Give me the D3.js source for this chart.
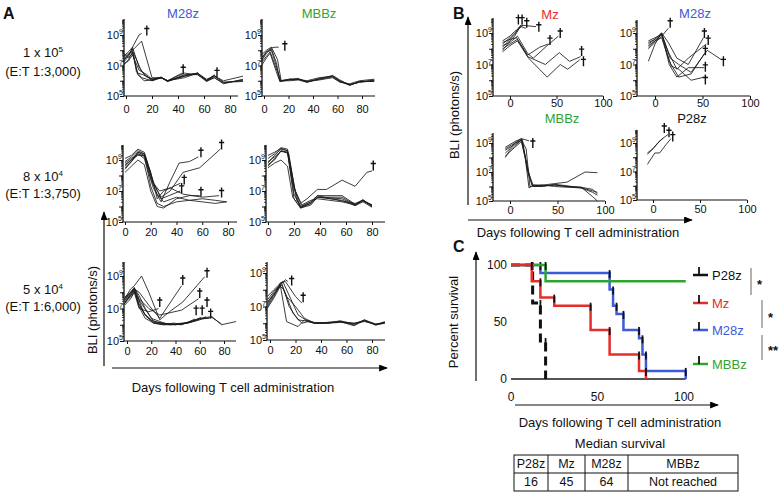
<!DOCTYPE html>
<html><head><meta charset="utf-8">
<script src="https://cdn.jsdelivr.net/npm/d3@7"></script>
<style>body{margin:0;background:#fff}svg{display:block}text{font-family:"Liberation Sans",Arial,Helvetica,sans-serif}</style>
</head><body><svg id="c" width="783" height="499"></svg>
<script>
// ---------------- DATA (day, log10 BLI) ----------------
const a1Lines = [
 [[-2,7.3],[2,7.7],[5,8.1],[8,6.6],[12,6.2],[20,6.0],[27,6.2],[32,6.0],[45,6.3],[55,6.5],[62,6.0],[68,6.3],[75,5.9],[90,6.0]],
 [[-2,7.0],[2,7.4],[5,7.9],[9,6.4],[14,6.0],[20,6.05],[27,6.25],[32,5.95],[45,6.4],[55,6.4],[62,5.95],[68,6.2],[75,5.8],[90,6.1]],
 [[-2,7.6],[2,7.9],[5,8.2],[10,6.9],[15,6.3],[20,6.1],[27,6.2],[32,6.0],[45,6.2],[55,6.5],[62,6.1],[68,6.3],[75,6.0],[90,6.3]],
 [[-2,7.5],[2,7.8],[5,7.9],[8,7.4],[12,6.6],[20,6.0],[27,6.2],[32,6.0],[45,6.5],[55,6.4],[62,6.05],[68,6.35],[75,5.9],[90,5.95]],
 [[-2,7.1],[2,7.3],[5,7.7],[10,6.7],[16,6.4],[20,6.1],[27,6.2],[32,5.95],[45,6.35],[55,6.5],[62,6.0],[68,6.2],[75,5.85],[90,6.05]],
 [[-2,7.2],[2,7.6],[5,8.2],[10,9.0],[12,9.1]],
 [[-2,7.4],[2,7.7],[5,8.0],[12,8.6],[20,6.2],[27,6.2],[32,6.0],[43,6.5]],
 [[-2,7.8],[2,7.5],[5,7.8],[9,6.5],[13,6.4],[20,6.1],[27,6.2],[32,6.0],[45,6.3],[55,6.5],[62,6.0],[68,6.4]]
];
const a1Daggers = [[16,9.3],[44,6.75],[70,6.55]];

const a2Lines = [
 [[-2,7.3],[2,7.8],[6,8.1],[10,7.2],[13,6.0],[21,6.1],[28,6.1],[35,5.95],[45,6.1],[56,6.25],[62,5.95],[70,5.7],[78,5.95],[90,6.0]],
 [[-2,7.5],[2,7.9],[6,8.0],[10,7.0],[13,5.95],[21,6.05],[28,6.15],[35,5.9],[45,6.15],[56,6.3],[62,6.0],[70,5.75],[78,5.9],[90,6.05]],
 [[-2,7.2],[2,7.6],[5,7.9],[10,6.8],[14,6.0],[21,6.1],[28,6.1],[35,5.95],[45,6.05],[56,6.2],[62,5.9],[70,5.8],[78,6.0],[90,6.1]],
 [[-2,7.7],[2,8.0],[6,8.2],[11,7.4],[14,6.0],[21,6.0],[28,6.05],[35,5.9],[45,6.1],[56,6.35],[62,6.05],[70,5.7],[78,5.95],[90,5.95]],
 [[-2,7.0],[2,7.5],[5,7.8],[10,6.6],[13,5.95],[21,6.1],[28,6.1],[35,6.0],[45,6.2],[56,6.3],[62,5.95],[70,5.75],[78,5.9],[90,6.0]],
 [[-2,7.4],[2,7.9],[6,8.15],[9,8.2],[12,8.2]]
];
const a2Daggers = [[17,8.3]];

const a3Lines = [
 [[0,8.9],[5,9.2],[10,9.6],[15,9.4],[20,7.8],[25,6.8],[30,6.3],[40,6.6],[50,6.4],[60,6.3],[70,6.2],[79,6.3]],
 [[0,8.6],[5,9.0],[10,9.3],[15,9.3],[20,7.3],[25,6.2],[30,6.0],[40,6.3],[50,6.4],[60,6.5],[70,6.4],[79,6.3]],
 [[0,9.1],[5,9.3],[10,9.7],[15,9.5],[22,7.5],[27,7.0],[35,7.2],[45,6.8],[60,6.6],[73,6.7]],
 [[0,8.2],[5,8.6],[10,9.0],[15,8.7],[20,7.0],[25,6.0],[30,5.9],[40,6.5],[50,6.7],[58,6.7]],
 [[0,8.7],[5,9.0],[10,9.5],[15,9.4],[20,8.2],[25,6.5],[30,7.0],[43,7.5]],
 [[0,8.8],[5,9.1],[10,9.4],[16,9.2],[22,7.6],[28,6.5],[43,7.0]],
 [[0,8.4],[5,8.9],[10,9.4],[15,9.1],[22,7.2],[28,6.3],[35,7.6],[42,8.8],[50,8.9],[57,9.2]],
 [[0,8.5],[5,8.9],[10,9.5],[15,9.3],[22,7.5],[28,6.6],[35,7.0],[45,8.2],[58,8.5],[74,9.7]]
];
const a3Daggers = [[59,9.5],[75,10.0],[46,7.75],[44,7.2],[59,6.95],[75,6.9]];

const a4Lines = [
 [[0,8.6],[5,9.1],[10,9.6],[15,9.5],[19,7.5],[25,5.9],[33,6.2],[38,6.6],[57,6.5],[67,6.1],[73,6.4],[80,6.0]],
 [[0,8.8],[5,9.3],[10,9.7],[15,9.6],[20,6.8],[25,6.0],[33,6.3],[38,6.7],[57,6.7],[67,6.15],[73,6.35],[80,6.1]],
 [[0,9.1],[5,9.4],[10,9.8],[15,9.7],[20,7.2],[26,6.1],[33,6.4],[38,6.5],[57,6.3],[67,6.1],[73,6.4],[80,6.05]],
 [[0,8.5],[5,8.8],[10,9.0],[15,8.6],[19,6.6],[25,5.95],[33,6.2],[38,6.6],[57,6.4],[67,6.05],[73,6.3],[80,5.95]],
 [[0,9.3],[5,9.5],[10,9.75],[15,9.6],[21,7.0],[25,6.2],[30,6.5],[38,7.1],[45,7.1],[57,7.7],[67,7.3],[76,8.2],[80,8.3]],
 [[0,8.9],[5,9.2],[10,9.55],[15,9.5],[20,6.5],[25,5.9],[33,6.1],[38,6.6],[57,6.6],[67,6.1],[73,6.45],[80,6.0]],
 [[0,8.7],[5,9.0],[10,9.6],[16,9.4],[22,6.4],[26,6.0],[33,6.3],[38,6.7],[57,6.35],[67,6.2],[73,6.4],[80,6.1]]
];
const a4Daggers = [[81,8.65]];

const a5Lines = [
 [[-2,7.5],[3,7.9],[6,8.2],[10,7.5],[14,6.7],[20,6.3],[27,6.1],[35,6.05],[45,6.0],[52,6.2],[60,6.4],[70,6.5],[78,6.0],[90,6.2]],
 [[-2,7.3],[3,7.8],[6,8.1],[10,7.2],[16,6.5],[22,6.1],[30,6.0],[38,6.1],[45,6.05],[52,6.15],[60,6.35],[70,6.45],[78,6.05]],
 [[-2,7.7],[3,8.0],[6,8.25],[10,7.8],[15,7.0],[22,6.2],[30,6.1],[40,6.0],[50,6.1],[60,6.3],[65,6.5]],
 [[-2,7.4],[3,7.7],[6,8.0],[12,7.3],[20,6.4],[27,6.2],[35,6.0],[45,6.05],[55,6.25],[61,6.45]],
 [[-2,7.6],[3,8.2],[6,8.4],[12,9.0],[18,8.0],[27,6.3],[35,6.8],[46,7.4],[64,8.95]],
 [[-2,7.3],[3,7.9],[6,8.2],[10,8.0],[18,7.2],[27,6.4],[45,8.4]],
 [[-2,7.5],[3,8.0],[6,8.3],[10,7.6],[18,7.0],[27,6.6],[45,6.9],[59,7.6]],
 [[-2,7.2],[3,7.6],[6,8.0],[10,7.0],[18,6.8],[26,7.0]],
 [[-2,7.6],[3,8.0],[6,8.2],[10,7.3],[15,6.6],[22,6.15],[30,6.05],[40,6.05],[50,6.15],[56,6.35]],
 [[-2,7.4],[3,7.8],[6,8.1],[10,7.1],[15,6.4],[22,6.1],[30,6.0],[40,6.0],[50,6.1],[60,6.35],[68,6.4]]
];
const a5Daggers = [[66,9.2],[46,8.75],[60,7.95],[27,7.4],[57,6.9],[62,6.9],[66,7.4],[69,6.7]];

const a6Lines = [
 [[-2,7.2],[3,7.8],[8,8.3],[12,8.6],[14,8.5]],
 [[-2,7.0],[3,7.6],[8,8.4],[12,8.5],[20,7.6],[25,7.2]],
 [[-2,7.4],[3,7.9],[8,8.3],[13,6.1],[22,5.8],[27,6.2],[35,6.0],[45,6.0],[55,6.1],[66,5.85],[74,6.2],[83,5.9],[90,6.05]],
 [[-2,7.6],[3,8.0],[9,8.45],[15,7.0],[22,6.2],[27,6.15],[35,6.0],[45,6.0],[55,6.05],[66,6.0],[74,6.1],[83,5.95],[90,6.0]],
 [[-2,6.9],[3,7.5],[8,8.2],[11,8.0],[18,6.6],[25,6.0],[30,6.1],[35,6.0],[45,6.05],[55,6.1],[66,5.9],[74,6.15],[83,5.9],[90,6.1]],
 [[-2,7.3],[3,7.7],[10,8.5],[16,7.5],[22,6.5],[28,6.2],[35,6.05],[45,6.0],[55,6.15],[66,5.95],[74,6.2],[83,5.95],[90,6.05]],
 [[-2,7.1],[3,7.7],[9,8.3],[13,7.6],[20,7.0],[27,6.3],[35,6.0],[45,6.05],[55,6.1],[66,6.0],[74,6.15],[83,5.9],[90,6.0]]
];
const a6Daggers = [[17,8.55],[26,7.55]];

const bMzLines = [
 [[-8,8.1],[0,8.6],[5,8.9],[10,9.4],[12,9.5]],
 [[-8,8.3],[0,8.7],[5,9.0],[10,9.3],[14,9.5]],
 [[-8,8.5],[0,8.8],[5,9.1],[12,9.4],[17,9.3]],
 [[-8,7.9],[0,8.5],[5,8.8],[12,9.5],[28,9.4]],
 [[-8,8.4],[0,8.6],[7,8.7],[19,7.6],[32,8.1],[41,8.3]],
 [[-8,8.2],[0,8.4],[8,8.8],[19,7.7],[25,7.4],[40,8.2],[52,8.8]],
 [[-8,8.0],[0,8.3],[8,8.6],[19,7.5],[38,7.0],[53,7.75],[64,7.2],[76,7.5]],
 [[-8,7.8],[0,8.2],[8,8.5],[20,7.4],[40,6.2],[54,7.0],[62,6.7],[75,7.3]]
];
const bMzDaggers = [[9,9.85],[13,9.85],[18,9.65],[31,9.4],[43,8.55],[54,9.0],[77,7.85],[79,7.2]];

const bM28zLines = [
 [[-7,8.0],[0,8.4],[7,8.8],[14,9.3]],
 [[-7,8.4],[0,8.6],[7,9.0],[14,8.4],[23,7.4],[35,7.0],[51,8.7]],
 [[-7,8.5],[0,8.7],[7,8.9],[14,7.8],[23,6.7],[35,7.4],[54,8.3]],
 [[-7,8.3],[0,8.6],[7,9.0],[16,7.4],[25,7.0],[38,6.5],[55,7.9],[70,7.3]],
 [[-7,7.2],[0,8.3],[7,9.0],[15,7.0],[23,6.2],[35,6.8],[52,6.8]],
 [[-7,8.1],[0,8.5],[7,8.9],[17,6.9],[25,6.7],[38,6.0],[52,6.2]],
 [[-7,8.2],[0,8.5],[7,8.7],[15,7.2],[25,6.2],[38,6.4],[52,7.7]]
];
const bM28zDaggers = [[16,9.65],[52,9.0],[56,8.55],[53,7.9],[72,7.2],[53,6.85],[53,6.05]];

const bMBBzLines = [
 [[-5,8.7],[0,8.9],[5,9.1],[12,9.3],[20,9.15]],
 [[-5,8.0],[0,8.5],[5,8.8],[12,9.2],[17,8.6],[21,6.0],[25,6.05],[35,6.1],[47,6.0],[60,5.95],[75,5.9],[87,5.6],[92,5.4]],
 [[-5,8.3],[0,8.6],[5,9.0],[12,9.3],[18,7.5],[23,6.1],[35,6.05],[47,6.1],[60,6.0],[75,5.95],[87,5.8],[92,5.5]],
 [[-5,8.5],[0,8.7],[5,8.9],[13,9.25],[19,6.9],[24,6.0],[35,6.0],[47,6.15],[60,6.05],[75,5.9],[87,5.7],[92,5.6]],
 [[-5,8.1],[0,8.4],[5,8.7],[12,9.1],[16,8.0],[20,5.9],[25,6.1],[35,6.1],[47,6.2],[60,6.3],[79,7.0],[92,6.95]],
 [[-5,8.6],[0,8.8],[5,9.0],[12,9.2],[19,7.0],[25,6.0],[35,6.05],[47,6.1],[60,6.0],[75,5.95],[87,5.3],[92,5.0]]
];
const bMBBzDaggers = [[24,9.0]];

const bP28zLines = [
 [[-6,8.2],[0,8.6],[5,9.0],[11,9.35]],
 [[-6,8.3],[0,8.6],[8,9.2],[16,9.6]],
 [[-6,7.5],[2,8.3],[7,8.3],[14,8.9],[19,9.3]]
];
const bP28zDaggers = [[12,10.05],[17,9.75],[21,9.45]];

// survival (day, percent)
const p28zSurv = [[0,100],[12.5,66.7],[17,33.3],[20,0]];
const m28zSurv = [[0,100],[17,92.9],[57,78.6],[59,64.3],[61,57.1],[65,42.9],[74,35.7],[76,21.4],[78,7.1],[101,0]];
const mbbzSurv = [[0,100],[20,85.7],[101,85.7]];
const mzSurv = [[0,100],[12,85.7],[17,71.4],[25,64.3],[46,42.9],[57,21.4],[74,7.1],[78,0]];

const tableHead = ["P28z","Mz","M28z","MBBz"];
const tableVals = ["16","45","64","Not reached"];
const xTicksA = [0,20,40,60,80];
const xTicksB = [0,50,100];
const survTicks = [0,50,100];

// ---------------- DRAWING ----------------
const BLUE="#3d5ad9", GREEN="#2fa52f", RED="#e52e2a";
const svg = d3.select('#c');
const mk = svg.append('defs').append('marker').attr('id','arr').attr('viewBox','0 0 10 8')
  .attr('refX',9).attr('refY',4).attr('markerWidth',9).attr('markerHeight',7)
  .attr('markerUnits','userSpaceOnUse').attr('orient','auto');
mk.append('path').attr('d','M0,0L10,4L0,8z').attr('fill','#000');

function txt(x,y,s,o={}){
  const t=svg.append('text').attr('x',x).attr('y',y).text(s)
   .attr('font-size',o.fs||13).attr('text-anchor',o.anchor||'middle').attr('fill',o.fill||'#111');
  if(o.bold) t.attr('font-weight','bold');
  if(o.rot) t.attr('transform',`rotate(-90,${x},${y})`);
  return t;
}

function bliPanel(c, lines, daggers, xMax, xTicks){
  const g=svg.append('g');
  const x=d3.scaleLinear().domain([0,xMax]).range([c.p0,c.pm]);
  const y=d3.scaleLog().domain([1e5,1e9]).range([c.yb,c.y9]);
  const topVal=y.invert(c.yt);
  const minor=[];
  for(let k=5;k<=10;k++) for(let m=1;m<=9;m++){const v=m*Math.pow(10,k); if(v<=topVal) minor.push(v);}
  const ya=g.append('g').attr('transform',`translate(${c.ax},0)`)
    .call(d3.axisLeft(y).tickValues(minor).tickSize(2).tickFormat(''));
  ya.select('.domain').remove();
  ya.selectAll('line').attr('stroke','#111').attr('stroke-width',0.8);
  g.append('g').attr('transform',`translate(${c.ax},0)`)
    .call(d3.axisLeft(y).tickValues([1e5,1e6,1e7,1e8,1e9].filter(v=>v<=topVal)).tickSize(4).tickFormat(''))
    .call(s=>{s.select('.domain').remove(); s.selectAll('line').attr('stroke','#111').attr('stroke-width',1);});
  g.append('line').attr('x1',c.ax).attr('x2',c.ax).attr('y1',c.yt).attr('y2',c.yb).attr('stroke','#111').attr('stroke-width',1.3);
  [5,7,9].forEach(e=>{
    const t=g.append('text').attr('x',c.ax-1).attr('y',y(Math.pow(10,e))+4).attr('text-anchor','end')
      .attr('font-size',11).attr('fill','#111');
    t.append('tspan').text('10');
    t.append('tspan').attr('dy',-5).attr('font-size',7).text(e);
  });
  const xa=g.append('g').attr('transform',`translate(0,${c.yb})`)
    .call(d3.axisBottom(x).tickValues(xTicks).tickSize(3).tickPadding(c.pad).tickFormat(d3.format('d')));
  xa.select('.domain').remove();
  xa.selectAll('line').attr('stroke','#111');
  xa.selectAll('text').attr('font-size',11).attr('fill','#111').attr('font-family','"Liberation Sans",Arial,sans-serif');
  g.append('line').attr('x1',c.ax).attr('x2',c.ex).attr('y1',c.yb).attr('y2',c.yb).attr('stroke','#111').attr('stroke-width',1.2);
  const ln=d3.line().x(d=>x(d[0])).y(d=>y(Math.pow(10,d[1])));
  g.selectAll('path.l').data(lines).join('path').attr('class','l').attr('d',ln)
    .attr('fill','none').attr('stroke','#1a1a1a').attr('stroke-width',0.85).attr('stroke-linejoin','round');
  g.selectAll('path.dg').data(daggers).join('path').attr('class','dg')
    .attr('d',d=>{const cx=x(d[0]), cy=y(Math.pow(10,d[1]));
       return `M${cx},${cy-5}V${cy+5}M${cx-2.6},${cy-2}H${cx+2.6}`;})
    .attr('fill','none').attr('stroke','#111').attr('stroke-width',1.4);
}

// Panel A
txt(3,19,'A',{fs:16,bold:true,anchor:'start'});
txt(183,18,'M28z',{fill:BLUE});
txt(319,18,'MBBz',{fill:GREEN});
const rowLab=[["1 x 10","5","(E:T 1:3,000)",57,76],["8 x 10","4","(E:T 1:3,750)",181,198],["5 x 10","4","(E:T 1:6,000)",294,311]];
rowLab.forEach(r=>{
  const t=svg.append('text').attr('x',43).attr('y',r[3]).attr('text-anchor','middle').attr('font-size',13).attr('fill','#111');
  t.append('tspan').text(r[0]); t.append('tspan').attr('dy',-5).attr('font-size',8).text(r[1]);
  txt(43,r[4],r[2]);
});
bliPanel({ax:124,ex:238,p0:126,pm:230,yb:96,y9:35,yt:19,pad:6},a1Lines,a1Daggers,80,xTicksA);
bliPanel({ax:262,ex:375,p0:264,pm:362,yb:96,y9:35,yt:19,pad:6},a2Lines,a2Daggers,80,xTicksA);
bliPanel({ax:123,ex:237,p0:125,pm:228,yb:222,y9:160,yt:145,pad:3},a3Lines,a3Daggers,80,xTicksA);
bliPanel({ax:266,ex:385,p0:268,pm:372,yb:222,y9:160,yt:145,pad:3},a4Lines,a4Daggers,80,xTicksA);
bliPanel({ax:124,ex:236,p0:127,pm:224,yb:341,y9:276,yt:262,pad:3},a5Lines,a5Daggers,80,xTicksA);
bliPanel({ax:267,ex:385,p0:270,pm:372,yb:340,y9:273,yt:262,pad:3},a6Lines,a6Daggers,80,xTicksA);
svg.append('line').attr('x1',104).attr('x2',104).attr('y1',366).attr('y2',212).attr('stroke','#111').attr('stroke-width',1.2).attr('marker-end','url(#arr)');
svg.append('line').attr('x1',112).attr('x2',387).attr('y1',368).attr('y2',368).attr('stroke','#111').attr('stroke-width',1.2).attr('marker-end','url(#arr)');
txt(97,310,'BLI (photons/s)',{rot:true});
txt(233,392,'Days following T cell administration');

// Panel B
txt(453,19,'B',{fs:16,bold:true,anchor:'start'});
txt(550,19,'Mz',{fill:RED});
txt(695,18,'M28z',{fill:BLUE});
txt(562,123,'MBBz',{fill:GREEN});
txt(692,123,'P28z');
bliPanel({ax:493,ex:603,p0:510,pm:603,yb:96,y9:33,yt:18,pad:0},bMzLines,bMzDaggers,100,xTicksB);
bliPanel({ax:637,ex:750,p0:655,pm:750,yb:96,y9:33,yt:20,pad:0},bM28zLines,bM28zDaggers,100,xTicksB);
bliPanel({ax:493,ex:605,p0:510,pm:605,yb:201,y9:143,yt:133,pad:2},bMBBzLines,bMBBzDaggers,100,xTicksB);
bliPanel({ax:637,ex:747,p0:653,pm:747,yb:200,y9:143,yt:130,pad:2},bP28zLines,bP28zDaggers,100,xTicksB);
svg.append('line').attr('x1',468).attr('x2',468).attr('y1',205).attr('y2',17).attr('stroke','#111').attr('stroke-width',1.2).attr('marker-end','url(#arr)');
svg.append('line').attr('x1',468).attr('x2',692).attr('y1',220).attr('y2',220).attr('stroke','#111').attr('stroke-width',1.2).attr('marker-end','url(#arr)');
txt(459,115,'BLI (photons/s)',{rot:true});
txt(578,237,'Days following T cell administration');

// Panel C
txt(453,252,'C',{fs:16,bold:true,anchor:'start'});
const xs=d3.scaleLinear().domain([0,100]).range([511,684]);
const ys=d3.scaleLinear().domain([0,100]).range([379,265]);
svg.append('line').attr('x1',476).attr('x2',476).attr('y1',381).attr('y2',252).attr('stroke','#111').attr('stroke-width',1.2).attr('marker-end','url(#arr)');
svg.append('line').attr('x1',515).attr('x2',718).attr('y1',405).attr('y2',405).attr('stroke','#111').attr('stroke-width',1.2).attr('marker-end','url(#arr)');
survTicks.forEach(v=>{ txt(507,ys(v)+4,String(v),{anchor:'end',fs:12}); txt(xs(v),401,String(v),{fs:12}); });
svg.append('line').attr('x1',xs(0)).attr('x2',xs(101)).attr('y1',ys(0)).attr('y2',ys(0)).attr('stroke','#555').attr('stroke-width',2);
txt(458,322,'Percent survival',{rot:true});
txt(620,427,'Days following T cell administration');
const survSeries=[
 {name:'P28z',color:'#111',dash:'9,5',data:p28zSurv,ly:275},
 {name:'M28z',color:BLUE,data:m28zSurv,ly:330},
 {name:'MBBz',color:GREEN,data:mbbzSurv,ly:364},
 {name:'Mz',color:RED,data:mzSurv,ly:303}
];
const sl=d3.line().curve(d3.curveStepAfter).x(d=>xs(d[0])).y(d=>ys(d[1]));
survSeries.forEach(s=>{
  const p=svg.append('path').attr('d',sl(s.data)).attr('fill','none').attr('stroke',s.color).attr('stroke-width',s.dash?3:2.5);
  if(s.dash) p.attr('stroke-dasharray',s.dash);
  s.data.forEach((d,i)=>{ if(i>0 && d[1]<s.data[i-1][1]) svg.append('line').attr('x1',xs(d[0])).attr('x2',xs(d[0]))
     .attr('y1',ys(s.data[i-1][1])-3).attr('y2',ys(s.data[i-1][1])+5).attr('stroke','#111').attr('stroke-width',1.8); });
});
survSeries.forEach(s=>{
  svg.append('line').attr('x1',693).attr('x2',708).attr('y1',s.ly).attr('y2',s.ly).attr('stroke',s.color).attr('stroke-width',2.5);
  svg.append('line').attr('x1',699).attr('x2',699).attr('y1',s.ly-8).attr('y2',s.ly).attr('stroke','#111').attr('stroke-width',1.8);
  txt(712,s.ly+5,s.name,{anchor:'start',fill:s.name==='P28z'?'#111':s.color});
});
[[751,268,295,757,'*',289],[762,300,328,768,'*',322],[762,335,360,768,'**',355]].forEach(b=>{
  svg.append('line').attr('x1',b[0]).attr('x2',b[0]).attr('y1',b[1]).attr('y2',b[2]).attr('stroke','#666').attr('stroke-width',1);
  txt(b[3],b[5],b[4],{anchor:'start',fs:13,bold:true});
});
txt(620,448,'Median survival');
const colX=[514,548,585,628,738], rowY=[455,473,491];
const tb=svg.append('g');
tb.append('rect').attr('x',colX[0]).attr('y',rowY[0]).attr('width',colX[4]-colX[0]).attr('height',rowY[2]-rowY[0]).attr('fill','none').attr('stroke','#111');
tb.append('line').attr('x1',colX[0]).attr('x2',colX[4]).attr('y1',rowY[1]).attr('y2',rowY[1]).attr('stroke','#111');
[1,2,3].forEach(i=>tb.append('line').attr('x1',colX[i]).attr('x2',colX[i]).attr('y1',rowY[0]).attr('y2',rowY[2]).attr('stroke','#111'));
tableHead.forEach((h,i)=>{const cx=(colX[i]+colX[i+1])/2; txt(cx,468,h,{fs:12.5}); txt(cx,486,tableVals[i],{fs:12.5});});
</script></body></html>
